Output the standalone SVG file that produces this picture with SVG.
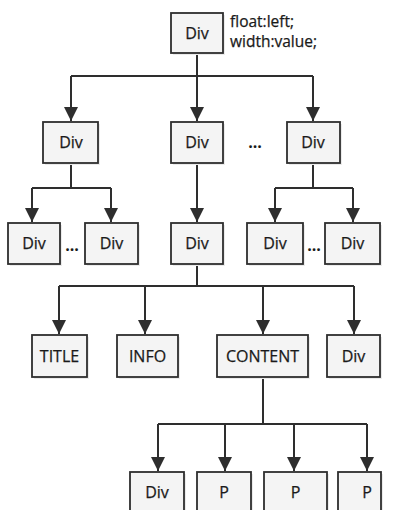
<svg xmlns="http://www.w3.org/2000/svg" width="394" height="510" viewBox="0 0 394 510">
  <style>
    .box rect.b { fill: #f4f4f4; stroke: #2e2e2e; stroke-width: 1.8; }
    .box rect.s { fill: #ebebeb; }
    .box text { font-family: "Open Sans", "Liberation Sans", sans-serif; font-size: 16px; fill: #1a1a1a; stroke: #1a1a1a; stroke-width: 0.25; text-anchor: middle; }
    .wire { fill: none; stroke: #2e2e2e; stroke-width: 2; }
    .dots { font-family: "Open Sans", "Liberation Sans", sans-serif; font-size: 16px; font-weight: bold; fill: #1a1a1a; text-anchor: middle; }
    .note { font-family: "Open Sans", "Liberation Sans", sans-serif; font-size: 15.5px; fill: #1a1a1a; stroke: #1a1a1a; stroke-width: 0.25; }
  </style>
  <defs>
    <marker id="arrow" viewBox="0 0 14 14" refX="14" refY="7" markerWidth="14" markerHeight="14" markerUnits="userSpaceOnUse" orient="auto">
      <path d="M0,0 L14,7 L0,14 Z" fill="#2e2e2e"/>
    </marker>
  </defs>
  <rect width="394" height="510" fill="#ffffff"/>

  <!-- connectors -->
  <g id="connectors" class="wire">
    <!-- root to level 2 -->
    <path d="M197,53 V76 M71,76 H313"/>
    <path d="M71,76 V121" marker-end="url(#arrow)"/>
    <path d="M197,76 V121" marker-end="url(#arrow)"/>
    <path d="M313,76 V121" marker-end="url(#arrow)"/>
    <!-- left branch -->
    <path d="M71,163 V188 M32,188 H111"/>
    <path d="M32,188 V222" marker-end="url(#arrow)"/>
    <path d="M111,188 V222" marker-end="url(#arrow)"/>
    <!-- middle branch -->
    <path d="M197,163 V222" marker-end="url(#arrow)"/>
    <!-- right branch -->
    <path d="M313,163 V188 M275,188 H353"/>
    <path d="M275,188 V222" marker-end="url(#arrow)"/>
    <path d="M353,188 V222" marker-end="url(#arrow)"/>
    <!-- middle level 3 children -->
    <path d="M197,264 V286 M59,286 H354"/>
    <path d="M59,286 V334" marker-end="url(#arrow)"/>
    <path d="M145,286 V334" marker-end="url(#arrow)"/>
    <path d="M263,286 V334" marker-end="url(#arrow)"/>
    <path d="M354,286 V334" marker-end="url(#arrow)"/>
    <!-- CONTENT children -->
    <path d="M263,377 V424 M158,424 H367"/>
    <path d="M158,424 V471" marker-end="url(#arrow)"/>
    <path d="M225,424 V471" marker-end="url(#arrow)"/>
    <path d="M294,424 V471" marker-end="url(#arrow)"/>
    <path d="M367,424 V471" marker-end="url(#arrow)"/>
  </g>

  <!-- root -->
  <g id="root" class="box">
    <rect class="s" x="173" y="15" width="52" height="40"/>
    <rect class="b" x="171" y="13" width="52" height="40"/>
    <text x="197" y="38.5">Div</text>
  </g>
  <g id="root-note">
    <text class="note" x="230" y="27">float:left;</text>
    <text class="note" x="230" y="47">width:value;</text>
  </g>

  <!-- level 2 -->
  <g id="l2-left" class="box">
    <rect class="s" x="45" y="124" width="55" height="41"/>
    <rect class="b" x="43" y="122" width="55" height="41"/>
    <text x="71" y="148">Div</text>
  </g>
  <g id="l2-mid" class="box">
    <rect class="s" x="173" y="124" width="52" height="41"/>
    <rect class="b" x="171" y="122" width="52" height="41"/>
    <text x="197" y="148">Div</text>
  </g>
  <g id="l2-right" class="box">
    <rect class="s" x="289" y="124" width="53" height="41"/>
    <rect class="b" x="287" y="122" width="53" height="41"/>
    <text x="313" y="148">Div</text>
  </g>
  <text class="dots" x="255" y="148">...</text>

  <!-- level 3 -->
  <g id="l3-a" class="box">
    <rect class="s" x="10" y="225" width="52" height="41"/>
    <rect class="b" x="8" y="223" width="52" height="41"/>
    <text x="34" y="249">Div</text>
  </g>
  <text class="dots" x="72" y="251">...</text>
  <g id="l3-b" class="box">
    <rect class="s" x="87" y="225" width="53" height="41"/>
    <rect class="b" x="85" y="223" width="53" height="41"/>
    <text x="111.5" y="249">Div</text>
  </g>
  <g id="l3-c" class="box">
    <rect class="s" x="173" y="225" width="52" height="41"/>
    <rect class="b" x="171" y="223" width="52" height="41"/>
    <text x="197" y="249">Div</text>
  </g>
  <g id="l3-d" class="box">
    <rect class="s" x="249" y="225" width="56" height="41"/>
    <rect class="b" x="247" y="223" width="56" height="41"/>
    <text x="275" y="249">Div</text>
  </g>
  <text class="dots" x="314" y="251">...</text>
  <g id="l3-e" class="box">
    <rect class="s" x="327" y="225" width="55" height="41"/>
    <rect class="b" x="325" y="223" width="55" height="41"/>
    <text x="352.5" y="249">Div</text>
  </g>

  <!-- level 4 -->
  <g id="title" class="box">
    <rect class="s" x="34" y="337" width="55" height="42"/>
    <rect class="b" x="32" y="335" width="55" height="42"/>
    <text x="59.5" y="361.5">TITLE</text>
  </g>
  <g id="info" class="box">
    <rect class="s" x="119" y="337" width="61" height="42"/>
    <rect class="b" x="117" y="335" width="61" height="42"/>
    <text x="147.5" y="361.5">INFO</text>
  </g>
  <g id="content" class="box">
    <rect class="s" x="219" y="337" width="91" height="42"/>
    <rect class="b" x="217" y="335" width="91" height="42"/>
    <text x="262.5" y="361.5">CONTENT</text>
  </g>
  <g id="l4-div" class="box">
    <rect class="s" x="329" y="337" width="53" height="42"/>
    <rect class="b" x="327" y="335" width="53" height="42"/>
    <text x="353.5" y="361.5">Div</text>
  </g>

  <!-- level 5 -->
  <g id="c-div" class="box">
    <rect class="s" x="132" y="474" width="54" height="44"/>
    <rect class="b" x="130" y="472" width="54" height="44"/>
    <text x="157" y="498">Div</text>
  </g>
  <g id="c-p1" class="box">
    <rect class="s" x="199" y="474" width="54" height="44"/>
    <rect class="b" x="197" y="472" width="54" height="44"/>
    <text x="224" y="498">P</text>
  </g>
  <g id="c-p2" class="box">
    <rect class="s" x="266" y="474" width="63" height="44"/>
    <rect class="b" x="264" y="472" width="63" height="44"/>
    <text x="295.5" y="498">P</text>
  </g>
  <g id="c-p3" class="box">
    <rect class="s" x="340" y="474" width="43" height="44"/>
    <rect class="b" x="338" y="472" width="43" height="44"/>
    <text x="367" y="498">P</text>
  </g>
</svg>
